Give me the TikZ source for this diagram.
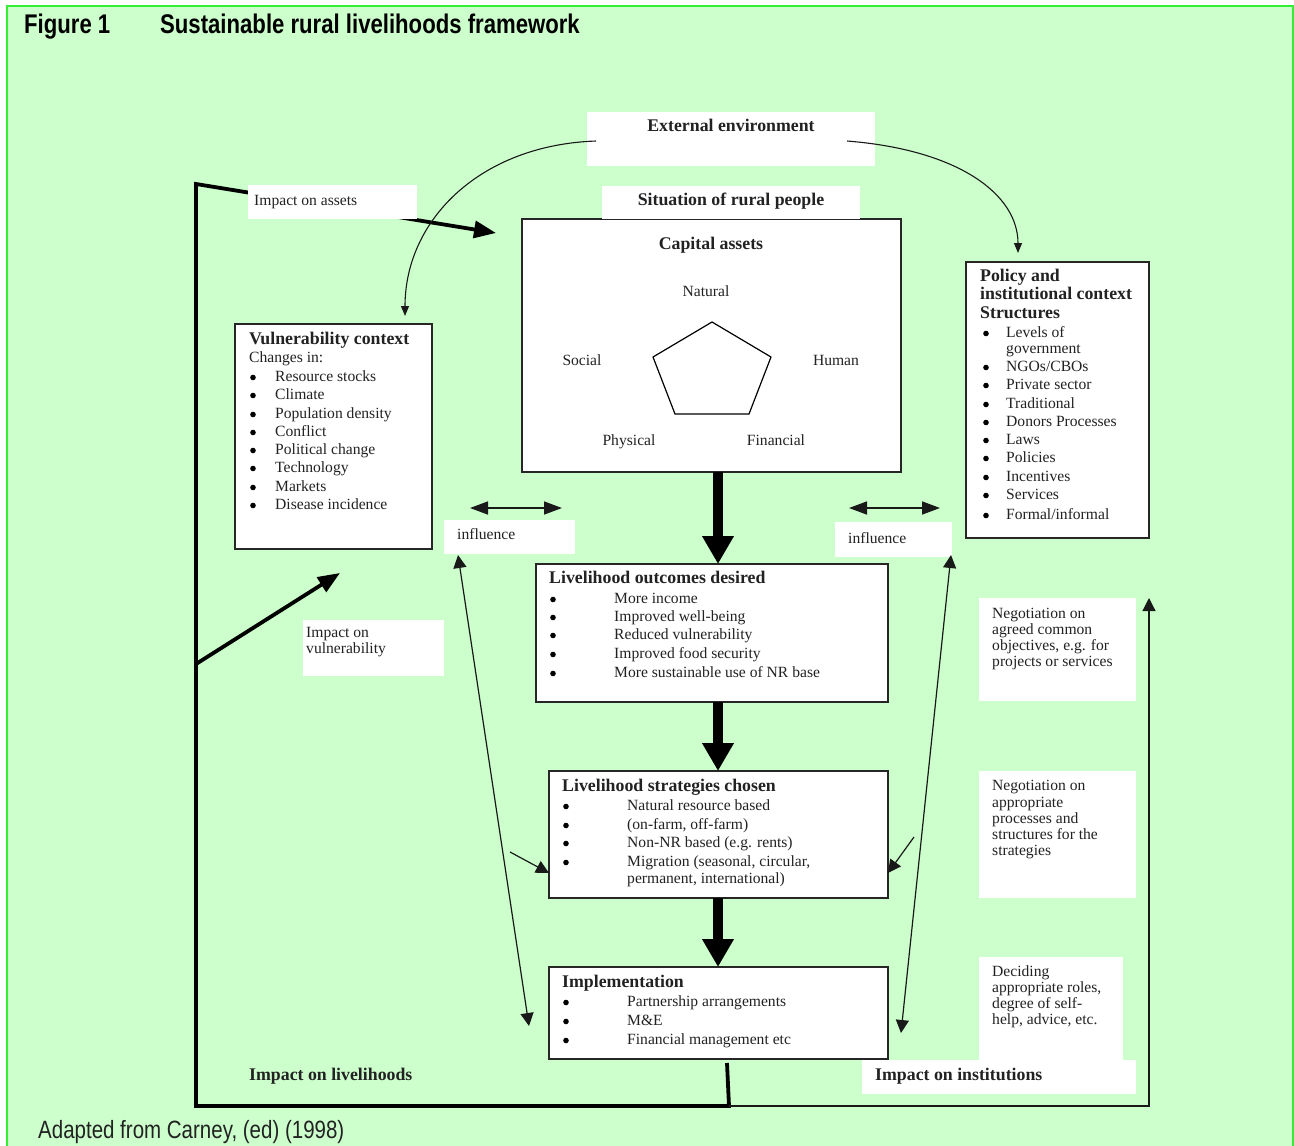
\documentclass[tikz,border=0pt]{standalone}
\usepackage{fontspec}
\setmainfont{Liberation Serif}
\newfontfamily\narrowsans[FakeStretch=0.82]{Liberation Sans}
\usetikzlibrary{arrows.meta}
\definecolor{bgGreen}{HTML}{CCFFCC}
\definecolor{edgeGreen}{HTML}{33EE33}
\definecolor{inkGray}{HTML}{222222}
\newcommand\regf{\fontsize{15.6}{18}\selectfont}
\newcommand\boldf{\fontsize{17.8}{20}\selectfont\bfseries}
\newcommand\ttlf{\narrowsans\bfseries\fontsize{27}{30}\selectfont}
\newcommand\footf{\narrowsans\fontsize{25}{28}\selectfont}
\begin{document}
\begin{tikzpicture}[x=1pt,y=-1pt,
  box/.style={draw=black!85, line width=1.3pt, fill=white, anchor=north west, inner sep=0pt, outer sep=0pt},
  wbox/.style={fill=white, draw=none, anchor=north west, inner sep=0pt, outer sep=0pt},
  txt/.style={font=\regf, text=inkGray, inner sep=0pt, anchor=mid west, yshift=-3.5pt},
  btxt/.style={font=\boldf, text=inkGray, inner sep=0pt, anchor=mid west, yshift=-3.5pt},
  ctxt/.style={font=\regf, text=inkGray, inner sep=0pt, anchor=mid, yshift=-3.5pt},
  bctxt/.style={font=\boldf, text=inkGray, inner sep=0pt, anchor=mid, yshift=-3.5pt},
  bul/.style={circle, fill=black, draw=none, inner sep=0pt, minimum size=5.6pt, yshift=-1.5pt},
  heavy/.style={draw=black, line width=3.8pt},
  fine/.style={draw=black!90, line width=1.2pt},
  bigarr/.style={draw=black, line width=10pt, -{Triangle[length=28pt,width=30pt]}},
  tipA/.tip={Triangle[length=13pt,width=13pt]},
  tipB/.tip={Triangle[length=18pt,width=13pt]},
  tipC/.tip={Triangle[length=10pt,width=8pt]},
  tipH/.tip={Triangle[length=22pt,width=17pt]}
]
\useasboundingbox (0,0) rectangle (1294,1146);
% background
\fill[white] (0,0) rectangle (1294,1146);
\fill[bgGreen] (7,6) rectangle (1293,1146);
\draw[edgeGreen, line width=1.6pt] (7,1146) -- (7,6) -- (1293,6) -- (1293,1146);

% title and footer
\node[font=\ttlf, inner sep=0pt, anchor=mid west] (figNo) at (24,31) {Figure 1};
\node[font=\ttlf, inner sep=0pt, anchor=mid west] (figTitle) at (160,31) {Sustainable rural livelihoods framework};
\node[font=\footf, inner sep=0pt, anchor=mid west, text=inkGray] (foot) at (38,1136) {Adapted from Carney, (ed) (1998)};

% coordinates of the feedback paths
\coordinate (cornTL) at (196,184);
\coordinate (cornBL) at (196,1106);
\coordinate (branch) at (196,664);
\coordinate (impOut) at (727,1063);
\coordinate (impCorner) at (729,1106);
\coordinate (instCorner) at (1149,1106);
\coordinate (instTip) at (1149,598);
\coordinate (assetTip) at (496,233);
\coordinate (vulTip) at (340,573);

\draw[heavy, line join=miter, -tipH] (impOut) -- (impCorner) -- (cornBL) -- (cornTL) -- (assetTip);
\draw[heavy, -tipH] (branch) -- (vulTip);
\draw[fine, -tipA] (impCorner) -- (instCorner) -- (instTip);

% external environment
\node[wbox, minimum width=288pt, minimum height=54pt] (ext) at (587,112) {};
\node[bctxt] (extT) at (731,126) {External environment};

% capital assets
\node[box, minimum width=379pt, minimum height=253pt] (cap) at (522,219) {};
\node[wbox, minimum width=258pt, minimum height=33pt] (sit) at (602,186) {};
\node[bctxt] (sitT) at (731,200) {Situation of rural people};
\node[bctxt] (capT) at (711,244) {Capital assets};
\node[ctxt] (natural) at (706,291) {Natural};
\node[ctxt] (social) at (582,360) {Social};
\node[ctxt] (human) at (836,360) {Human};
\node[ctxt] (physical) at (629,440) {Physical};
\node[ctxt] (financial) at (776,440) {Financial};
\draw[line width=1.2pt, line join=miter] (712,322) -- (771,357) -- (749,414) -- (675,414) -- (653,357) -- cycle;

% impact on assets label
\node[wbox, minimum width=169pt, minimum height=34pt] (assetsLbl) at (248,185) {};
\node[txt] (assetsT) at (254,200) {Impact on assets};

% vulnerability context
\node[box, minimum width=197pt, minimum height=225pt] (vul) at (235,324) {};
\node[btxt] (vulH) at (249,339) {Vulnerability context};
\node[txt] (vulS) at (249,357) {Changes in:};
\foreach \y/\t [count=\i] in {376/Resource stocks, 394/Climate, 413/Population density, 431/Conflict, 449/Political change, 467/Technology, 486/Markets, 504/Disease incidence}{
  \node[bul] (vb\i) at (253,\y) {};
  \node[txt] (vi\i) at (275,\y) {\t};
}

% policy and institutional context
\node[box, minimum width=183pt, minimum height=276pt] (pol) at (966,262) {};
\node[btxt] (polH1) at (980,276) {Policy and};
\node[btxt] (polH2) at (980,294) {institutional context};
\node[btxt] (polH3) at (980,313) {Structures};
\foreach \y/\t [count=\i] in {332/{Levels of}, 366/{NGOs/CBOs}, 384/{Private sector}, 403/{Traditional}, 421/{Donors Processes}, 439/{Laws}, 457/{Policies}, 476/{Incentives}, 494/{Services}, 514/{Formal/informal}}{
  \node[bul] (pb\i) at (986,\y) {};
  \node[txt] (pi\i) at (1006,\y) {\t};
}
\node[txt] (pgov) at (1006,348) {government};

% influence labels
\node[wbox, minimum width=131pt, minimum height=34pt] (infl1) at (444,520) {};
\node[txt] (infl1T) at (457,534) {influence};
\node[wbox, minimum width=117pt, minimum height=35pt] (infl2) at (835,522) {};
\node[txt] (infl2T) at (848,538) {influence};

% livelihood outcomes
\node[box, minimum width=352pt, minimum height=138pt] (out) at (536,564) {};
\node[btxt] (outH) at (549,578) {Livelihood outcomes desired};
\foreach \y/\t [count=\i] in {598/More income, 616/Improved well-being, 634/Reduced vulnerability, 653/Improved food security, 672/More sustainable use of NR base}{
  \node[bul] (ob\i) at (553,\y) {};
  \node[txt] (oi\i) at (614,\y) {\t};
}

% impact on vulnerability label
\node[wbox, minimum width=141pt, minimum height=56pt] (vulLbl) at (303,620) {};
\node[txt] (vulL1) at (306,632) {Impact on};
\node[txt] (vulL2) at (306,648) {vulnerability};

% livelihood strategies
\node[box, minimum width=339pt, minimum height=127pt] (str) at (549,771) {};
\node[btxt] (strH) at (562,786) {Livelihood strategies chosen};
\foreach \y/\t [count=\i] in {805/{Natural resource based}, 824/{(on-farm, off-farm)}, 842/{Non-NR based (e.g. rents)}, 861/{Migration (seasonal, circular,}}{
  \node[bul] (sb\i) at (566,\y) {};
  \node[txt] (si\i) at (627,\y) {\t};
}
\node[txt] (si5) at (627,878) {permanent, international)};

% implementation
\node[box, minimum width=339pt, minimum height=92pt] (imp) at (549,967) {};
\node[btxt] (impH) at (562,982) {Implementation};
\foreach \y/\t [count=\i] in {1001/{Partnership arrangements}, 1020/{M\&E}, 1039/{Financial management etc}}{
  \node[bul] (ib\i) at (566,\y) {};
  \node[txt] (ii\i) at (627,\y) {\t};
}

% right-hand notes
\node[wbox, minimum width=157pt, minimum height=103pt] (neg1) at (979,598) {};
\foreach \y/\t [count=\i] in {613/{Negotiation on}, 629/{agreed common}, 645/{objectives, e.g. for}, 661/{projects or services}}{
  \node[txt] (na\i) at (992,\y) {\t};
}
\node[wbox, minimum width=157pt, minimum height=127pt] (neg2) at (979,771) {};
\foreach \y/\t [count=\i] in {785/{Negotiation on}, 802/{appropriate}, 818/{processes and}, 834/{structures for the}, 850/{strategies}}{
  \node[txt] (nb\i) at (992,\y) {\t};
}
\node[wbox, minimum width=144pt, minimum height=103pt] (dec) at (979,957) {};
\foreach \y/\t [count=\i] in {971/{Deciding}, 987/{appropriate roles,}, 1003/{degree of self-}, 1019/{help, advice, etc.}}{
  \node[txt] (nc\i) at (992,\y) {\t};
}
\node[wbox, minimum width=274pt, minimum height=34pt] (instLbl) at (862,1060) {};
\node[btxt] (instT) at (875,1075) {Impact on institutions};
\node[btxt] (livT) at (249,1075) {Impact on livelihoods};

% curved arrows from the external environment
\coordinate (extL) at (596,141);
\coordinate (extR) at (847,141);
\coordinate (vulIn) at (405,316);
\coordinate (polIn) at (1018,253);
\draw[fine, line width=1.1pt, -tipC] (extL) .. controls (480,145) and (405,220) .. (vulIn);
\draw[fine, line width=1.1pt, -tipC] (extR) .. controls (960,150) and (1018,195) .. (polIn);

% influence double arrows
\coordinate (dl1) at (470,508);
\coordinate (dl2) at (562,508);
\coordinate (dr1) at (849,508);
\coordinate (dr2) at (940,508);
\draw[fine, line width=1.6pt, tipB-tipB] (dl1) -- (dl2);
\draw[fine, line width=1.6pt, tipB-tipB] (dr1) -- (dr2);

% long thin arrows
\coordinate (la1) at (458,555);
\coordinate (la2) at (529,1026);
\coordinate (ra1) at (951,555);
\coordinate (ra2) at (901,1033);
\draw[fine, tipA-tipA] (la1) -- (la2);
\draw[fine, tipA-tipA] (ra1) -- (ra2);
\coordinate (ls1) at (510,852);
\coordinate (ls2) at (549,873);
\coordinate (rs1) at (914,837);
\coordinate (rs2) at (888,873);
\draw[fine, -tipA] (ls1) -- (ls2);
\draw[fine, -tipA] (rs1) -- (rs2);

% main flow
\coordinate (flowX) at (718,0);
\draw[bigarr] (cap.south -| flowX) -- (out.north -| flowX);
\draw[bigarr] (out.south -| flowX) -- (str.north -| flowX);
\draw[bigarr] (str.south -| flowX) -- (imp.north -| flowX);
\end{tikzpicture}
\end{document}
